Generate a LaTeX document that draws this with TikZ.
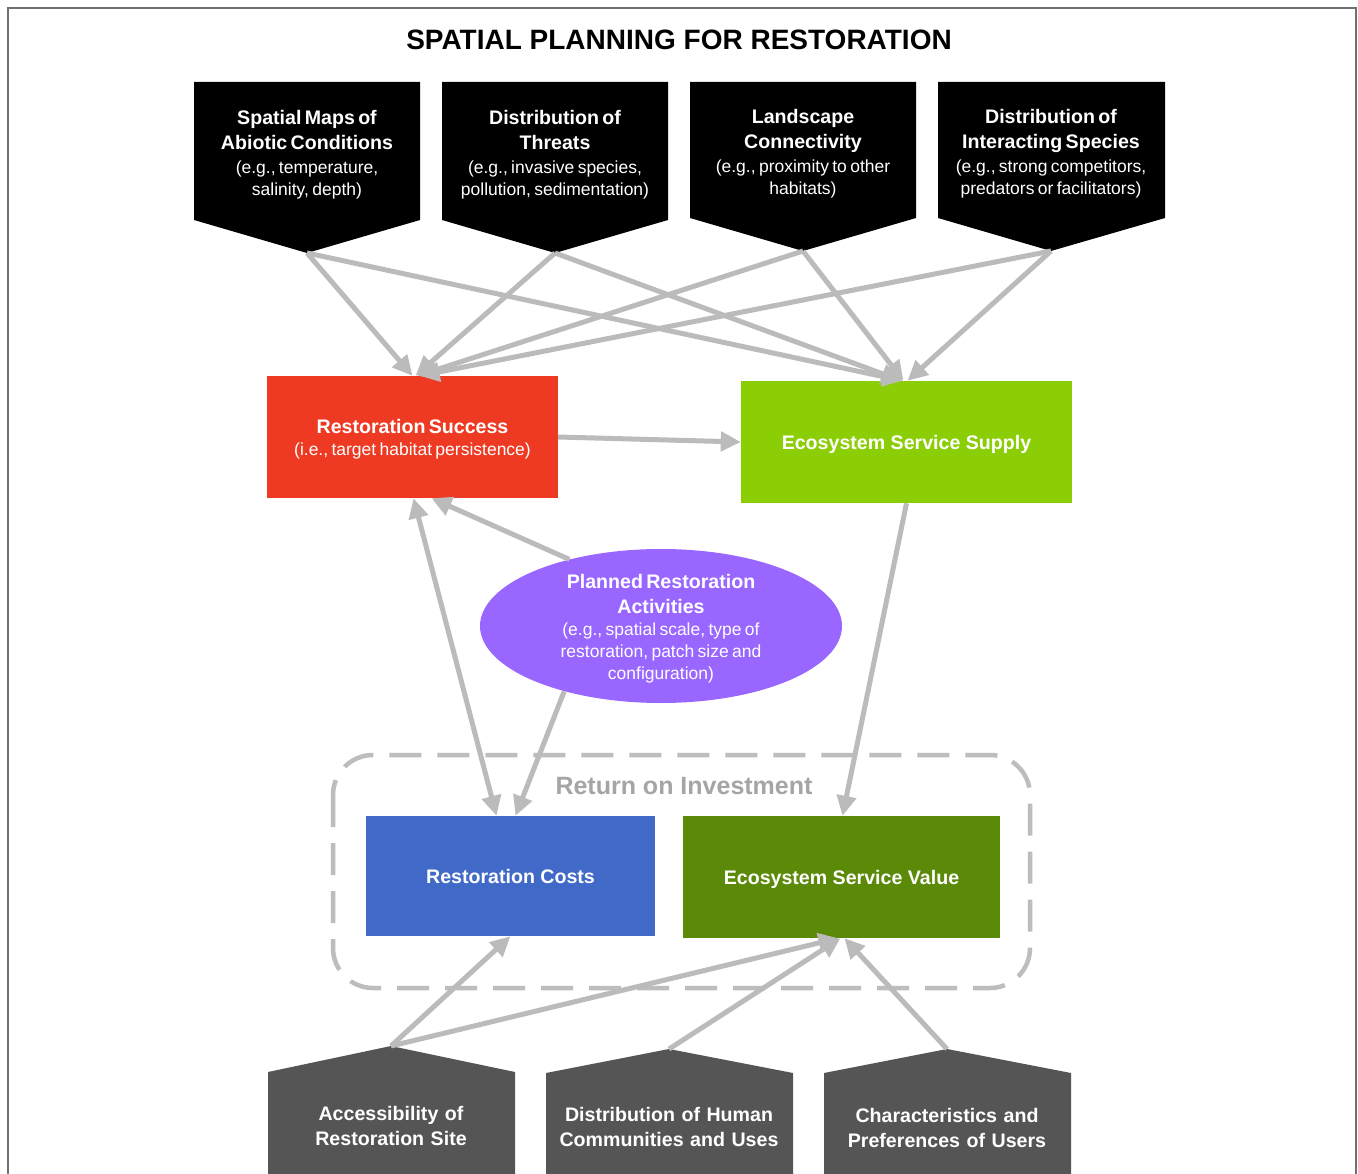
\documentclass[tikz,border=0pt]{standalone}
\usepackage{fontspec}
\setmainfont{Liberation Sans}
\usetikzlibrary{arrows.meta,shapes.geometric}
\definecolor{rsred}{HTML}{EE3A23}
\definecolor{esslime}{HTML}{8BCE06}
\definecolor{prapurple}{HTML}{9966FF}
\definecolor{rcblue}{HTML}{4169C8}
\definecolor{esvgreen}{HTML}{5A8A08}
\definecolor{botgray}{HTML}{555555}
\definecolor{arrgray}{HTML}{BBBBBB}
\definecolor{dashgray}{HTML}{BDBDBD}
\definecolor{roigray}{HTML}{A5A5A5}
\definecolor{framegray}{HTML}{707070}
\newcommand{\myBold}{\fontsize{19.6}{25}\selectfont\bfseries}
\newcommand{\myReg}{\fontsize{17.5}{22}\selectfont}
\begin{document}
\begin{tikzpicture}[x=1pt,y=-1pt,
  arr/.style={draw=arrgray, line width=5pt, -{Triangle[length=20pt,width=19pt]}},
  darr/.style={draw=arrgray, line width=5pt, {Triangle[length=20pt,width=19pt]}-{Triangle[length=20pt,width=19pt]}},
  toptext/.style={text=white, align=center, text width=230pt, inner sep=0pt},
  midbox/.style={text=white, align=center, inner sep=0pt},
  bottext/.style={text=white, align=center, text width=245pt, inner sep=0pt, font=\myBold}
]
\useasboundingbox (0,0) rectangle (1358,1174);
\fill[white] (0,0) rectangle (1358,1174);
% frame
\draw[framegray, line width=2pt] (8,1180) -- (8,8) -- (1356,8) -- (1356,1180);

% title
\node[inner sep=0pt, font=\fontsize{28}{32}\selectfont\bfseries] (title) at (679,40) {SPATIAL PLANNING FOR RESTORATION};

% top boxes
\fill[black] (194,82) -- (420,82) -- (420,220) -- (307,253) -- (194,220) -- cycle;
\fill[black] (442,82) -- (668,82) -- (668,220) -- (555,253) -- (442,220) -- cycle;
\fill[black] (690,82) -- (916,82) -- (916,218) -- (803,251) -- (690,218) -- cycle;
\fill[black] (938,82) -- (1165,82) -- (1165,218) -- (1051,251) -- (938,218) -- cycle;
\coordinate (t1a) at (307,253);
\coordinate (t2a) at (555,253);
\coordinate (t3a) at (803,251);
\coordinate (t4a) at (1051,251);

\node[toptext] (t1) at (307,155) {{\myBold Spatial Maps of\\Abiotic Conditions\par}\vspace{2pt}{\myReg (e.g., temperature,\\salinity, depth)\par}};
\node[toptext] (t2) at (555,155) {{\myBold Distribution of\\Threats\par}\vspace{2pt}{\myReg (e.g., invasive species,\\pollution, sedimentation)\par}};
\node[toptext] (t3) at (803,154) {{\myBold Landscape\\Connectivity\par}\vspace{2pt}{\myReg (e.g., proximity to other\\habitats)\par}};
\node[toptext] (t4) at (1051,154) {{\myBold Distribution of\\Interacting Species\par}\vspace{2pt}{\myReg (e.g., strong competitors,\\predators or facilitators)\par}};

% middle boxes
\node[fill=rsred, minimum width=291pt, minimum height=122pt, inner sep=0pt] (rs) at (412.5,437) {};
\node[text=white, align=center, text width=285pt, inner sep=0pt] (rst) at ([yshift=-2pt]rs.center) {{\myBold Restoration Success\par}{\myReg (i.e., target habitat persistence)\par}};
\node[fill=esslime, minimum width=331pt, minimum height=122pt, inner sep=0pt] (ess) at (906.5,442) {};
\node[midbox, font=\myBold] (esst) at ([yshift=-2pt]ess.center) {Ecosystem Service Supply};

% ellipse
\node[ellipse, fill=prapurple, minimum width=362pt, minimum height=154pt, inner sep=0pt] (pra) at (661,626) {};
\node[text=white, align=center, text width=300pt, inner sep=0pt] (prat) at ([yshift=-3pt]pra.center) {{\myBold Planned Restoration\\Activities\par}{\myReg (e.g., spatial scale, type of\\restoration, patch size and\\configuration)\par}};

% return on investment frame
\draw[dashgray, line width=4.5pt, rounded corners=40pt, dash pattern=on 32pt off 16pt] (333,755) rectangle (1030,988);
\node[inner sep=0pt, text=roigray, font=\fontsize{25}{30}\selectfont\bfseries] (roi) at (684,786) {Return on Investment};

% bottom-middle boxes
\node[midbox, fill=rcblue, minimum width=289pt, minimum height=120pt, font=\myBold] (rc) at (510.5,876) {Restoration Costs};
\node[fill=esvgreen, minimum width=317pt, minimum height=122pt, inner sep=0pt] (esv) at (841.5,877) {};
\node[midbox, font=\myBold] (esvt) at ([yshift=-2pt]esv.center) {Ecosystem Service Value};

% bottom boxes
\fill[botgray] (268,1072) -- (391,1046) -- (515,1072) -- (515,1180) -- (268,1180) -- cycle;
\fill[botgray] (546,1073) -- (669,1049) -- (793,1073) -- (793,1180) -- (546,1180) -- cycle;
\fill[botgray] (824,1073) -- (947,1049) -- (1071,1073) -- (1071,1180) -- (824,1180) -- cycle;
\coordinate (b1a) at (391,1046);
\coordinate (b2a) at (669,1049);
\coordinate (b3a) at (947,1049);
\node[bottext] (b1) at (391,1126) {Accessibility of\\Restoration Site};
\node[bottext] (b2) at (669,1127) {Distribution of Human\\Communities and Uses};
\node[bottext] (b3) at (947,1128) {Characteristics and\\Preferences of Users};

% arrows from top boxes
\draw[arr] (t1a) -- ([xshift=0pt]rs.north);
\draw[arr] (t2a) -- ([xshift=3pt]rs.north);
\draw[arr] (t3a) -- ([xshift=5pt]rs.north);
\draw[arr] (t4a) -- ([xshift=7pt]rs.north);
\draw[arr] (t1a) -- ([xshift=-4pt]ess.north);
\draw[arr] (t2a) -- ([xshift=-5pt]ess.north);
\draw[arr] (t3a) -- ([xshift=-3pt]ess.north);
\draw[arr] (t4a) -- ([xshift=1pt]ess.north);

% middle arrows
\draw[arr] (rs.east) -- (ess.west);
\draw[arr] (pra.144) -- ([xshift=19pt]rs.south);
\draw[darr] ([xshift=1pt]rs.south) -- ([xshift=-14pt]rc.north);
\draw[arr] (pra.214) -- ([xshift=5pt]rc.north);
\draw[arr] (ess.south) -- ([xshift=1pt]esv.north);

% bottom arrows
\draw[arr] (b1a) -- (rc.south);
\draw[arr] (b1a) -- ([xshift=-3pt]esv.south);
\draw[arr] (b2a) -- ([xshift=-1pt]esv.south);
\draw[arr] (b3a) -- ([xshift=3pt]esv.south);
\end{tikzpicture}
\end{document}
